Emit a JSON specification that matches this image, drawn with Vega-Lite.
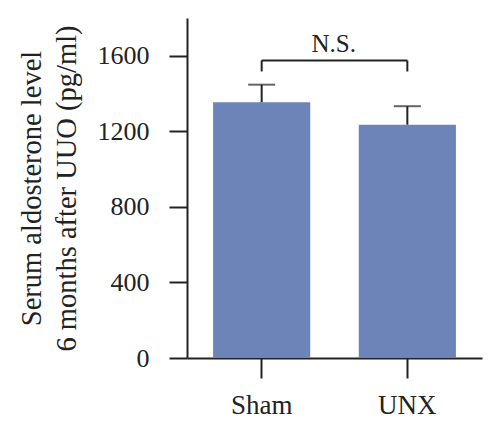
{
  "$schema": "https://vega.github.io/schema/vega-lite/v6.json",
  "width": 295,
  "height": 340,
  "autosize": "none",
  "padding": {"left": 187, "top": 18, "right": 18, "bottom": 75},
  "background": "white",
  "config": {
    "view": {"stroke": null},
    "font": "Liberation Serif",
    "axis": {
      "domainColor": "#222222",
      "domainWidth": 2,
      "tickColor": "#222222",
      "tickWidth": 2,
      "labelColor": "#222222",
      "titleColor": "#222222",
      "labelFont": "Liberation Serif",
      "titleFont": "Liberation Serif",
      "grid": false
    }
  },
  "datasets": {
    "groups": [
      {"group": "Sham", "mean": 1354, "upper": 1447},
      {"group": "UNX", "mean": 1235, "upper": 1333}
    ],
    "bracket": [
      {"group": "Sham", "top": 1575, "bottom": 1517},
      {"group": "UNX", "top": 1575, "bottom": 1517}
    ],
    "note": [
      {"group": "Sham", "y": 1618, "label": "N.S."}
    ]
  },
  "encoding": {
    "x": {
      "field": "group",
      "type": "nominal",
      "sort": ["Sham", "UNX"],
      "scale": {"paddingInner": 0.333, "paddingOuter": 0.179},
      "axis": {
        "title": null,
        "labelAngle": 0,
        "labelFontSize": 27,
        "labelPadding": 14,
        "tickSize": 20
      }
    }
  },
  "layer": [
    {
      "data": {"name": "groups"},
      "mark": {"type": "bar", "color": "#6c84b8"},
      "encoding": {
        "y": {
          "field": "mean",
          "type": "quantitative",
          "scale": {"domain": [0, 1800], "nice": false},
          "axis": {
            "values": [0, 400, 800, 1200, 1600],
            "format": "d",
            "title": ["Serum aldosterone level", "6 months after UUO (pg/ml)"],
            "titleFontSize": 28.5,
            "titleFontWeight": "normal",
            "titleLineHeight": 35,
            "titlePadding": 16,
            "labelFontSize": 26,
            "labelPadding": 20,
            "tickSize": 18
          }
        }
      }
    },
    {
      "data": {"name": "groups"},
      "mark": {"type": "rule", "color": "#222222", "strokeWidth": 2},
      "encoding": {
        "y": {"field": "mean", "type": "quantitative"},
        "y2": {"field": "upper"}
      }
    },
    {
      "data": {"name": "groups"},
      "mark": {"type": "tick", "color": "#222222", "thickness": 2, "size": 27, "orient": "horizontal"},
      "encoding": {
        "y": {"field": "upper", "type": "quantitative"}
      }
    },
    {
      "data": {"name": "bracket"},
      "mark": {"type": "rule", "color": "#222222", "strokeWidth": 2},
      "encoding": {
        "y": {"field": "top", "type": "quantitative"},
        "y2": {"field": "bottom"}
      }
    },
    {
      "data": {"name": "bracket"},
      "mark": {"type": "line", "color": "#222222", "strokeWidth": 2},
      "encoding": {
        "y": {"field": "top", "type": "quantitative"}
      }
    },
    {
      "data": {"name": "note"},
      "mark": {"type": "text", "fontSize": 25, "color": "#222222", "dx": 72, "baseline": "alphabetic"},
      "encoding": {
        "y": {"field": "y", "type": "quantitative"},
        "text": {"field": "label"}
      }
    }
  ]
}
